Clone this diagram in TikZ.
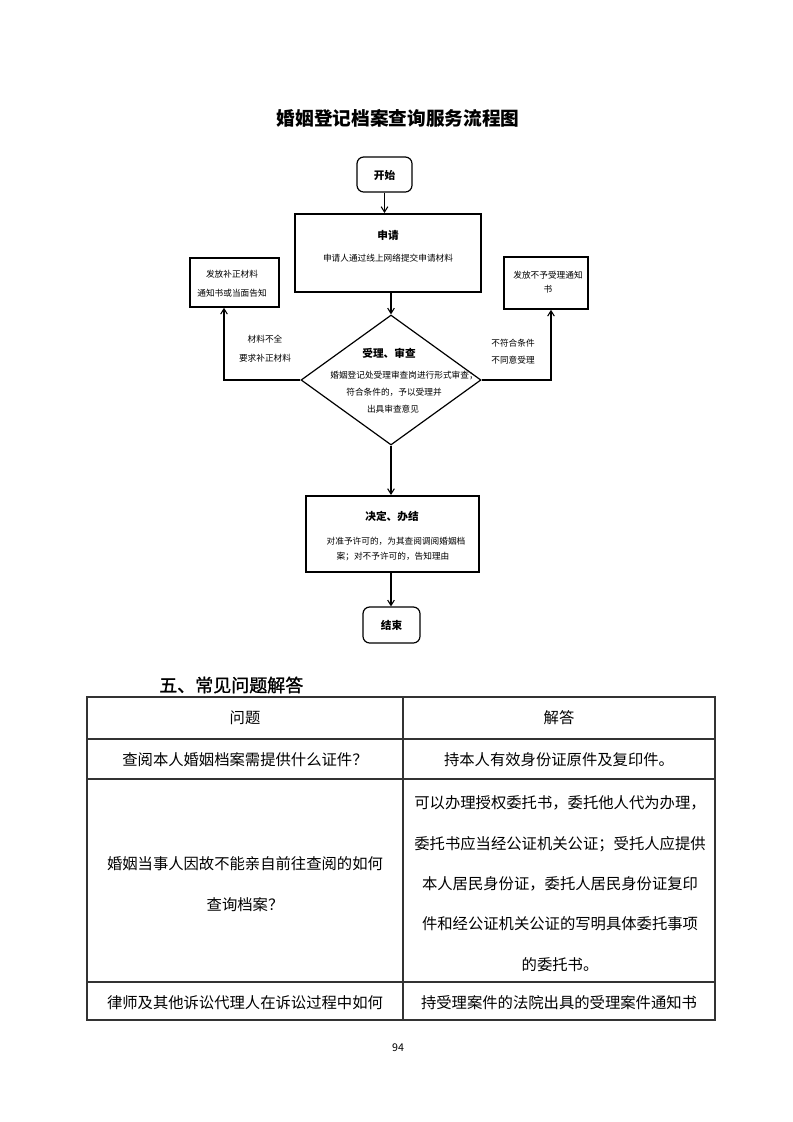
\documentclass[tikz,border=0pt]{standalone}
\usepackage{fontspec}
\setmainfont{Noto Sans CJK SC}
\newfontfamily\secfont[FakeBold=1.2]{Noto Sans CJK SC}
\usetikzlibrary{arrows.meta,shapes.geometric}
\tikzset{
  arr/.style={draw, line width=0.8pt, -{Straight Barb[length=4pt,width=5pt]}},
  thickbox/.style={draw, line width=1.5pt, inner sep=0pt},
  sidebox/.style={draw, line width=1.2pt, inner sep=0pt},
  rbox/.style={draw, line width=0.9pt, rounded corners=5pt, inner sep=0pt},
  dia/.style={draw, diamond, line width=0.9pt, inner sep=0pt},
  small/.style={font=\fontsize{6.5pt}{7pt}\selectfont, inner sep=0pt},
  head/.style={font=\fontsize{8pt}{9pt}\selectfont\bfseries, inner sep=0pt},
  cell/.style={font=\fontsize{11.5pt}{12pt}\selectfont, inner sep=0pt},
  tline/.style={line width=0.8pt, draw=black!80}
}
\begin{document}
\begin{tikzpicture}[x=0.75pt,y=-0.75pt]
\useasboundingbox[fill=white] (0,0) rectangle (793,1122);

% title
\node[font=\fontsize{14pt}{16pt}\selectfont\bfseries, inner sep=0pt] (title) at (398,118) {婚姻登记档案查询服务流程图};

% flowchart nodes
\node[rbox, minimum width=41.25pt, minimum height=26.25pt] (start) at (384.5,174.5) {};
\node[head] (starttxt) at (384.5,175) {开始};

\node[thickbox, minimum width=139.5pt, minimum height=58.5pt] (app) at (388,253) {};
\node[head] (apptitle) at (388,235) {申请};
\node[small] (apptxt) at (388,258) {申请人通过线上网络提交申请材料};

\node[sidebox, minimum width=66.75pt, minimum height=36.75pt] (lb) at (234.5,282.5) {};
\node[small] (lb1) at (232,274) {发放补正材料};
\node[small] (lb2) at (232,293) {通知书或当面告知};

\node[sidebox, minimum width=63pt, minimum height=39pt] (rb) at (546,283) {};
\node[small] (rb1) at (548,275) {发放不予受理通知};
\node[small] (rb2) at (548,289) {书};

\node[dia, minimum width=135pt, minimum height=97.5pt] (d) at (391,380) {};
\node[head] (dtitle) at (389,353) {受理、审查};
\node[small] (d1) at (404,376) {婚姻登记处受理审查岗进行形式审查；};
\node[small] (d2) at (394,392) {符合条件的，予以受理并};
\node[small] (d3) at (393,409) {出具审查意见};

\node[small] (ll1) at (265,339) {材料不全};
\node[small] (ll2) at (265,358) {要求补正材料};
\node[small] (rl1) at (513,343) {不符合条件};
\node[small] (rl2) at (513,360) {不同意受理};

\node[thickbox, minimum width=129.75pt, minimum height=57pt] (dec) at (392.5,534) {};
\node[head] (dectitle) at (392,516) {决定、办结};
\node[small] (dec1) at (396,541) {对准予许可的，为其查阅调阅婚姻档};
\node[small] (dec2) at (393,557) {案；对不予许可的，告知理由};

\node[rbox, minimum width=42.75pt, minimum height=27pt] (end) at (391.5,625) {};
\node[head] (endtxt) at (391.5,625) {结束};

% connectors
\coordinate (lbin) at (224,301);
\coordinate (rbin) at (551,309);
\draw[arr] (start.south) -- (start.south |- app.north);
\draw[arr] (d.north |- app.south) -- (d.north);
\draw[arr] (d.west) -| (lbin |- lb.south);
\draw[arr] (d.east) -| (rbin |- rb.south);
\draw[arr] (d.south) -- (d.south |- dec.north);
\draw[arr] (d.south |- dec.south) -- (d.south |- end.north);

% section heading
\node[font=\fontsize{13.5pt}{15pt}\secfont, anchor=west, inner sep=0pt] (sec) at (159,685) {五、常见问题解答};

% table
\coordinate (tl) at (87,697);
\coordinate (br) at (715,1020);
\draw[tline] (tl) rectangle (br);
\draw[tline] (403,697) -- (403,1020);
\draw[tline] (87,739) -- (715,739);
\draw[tline] (87,779) -- (715,779);
\draw[tline] (87,982) -- (715,982);

\node[cell] (h1) at (245,718) {问题};
\node[cell] (h2) at (559,718) {解答};
\node[cell] (q1) at (245,760) {查阅本人婚姻档案需提供什么证件？};
\node[cell] (a1) at (559,760) {持本人有效身份证原件及复印件。};
\node[cell] (q2a) at (245,864) {婚姻当事人因故不能亲自前往查阅的如何};
\node[cell] (q2b) at (245,905) {查询档案？};
\node[cell] (a2a) at (560,803) {可以办理授权委托书，委托他人代为办理，};
\node[cell] (a2b) at (560,844) {委托书应当经公证机关公证；受托人应提供};
\node[cell] (a2c) at (560,884) {本人居民身份证，委托人居民身份证复印};
\node[cell] (a2d) at (560,924) {件和经公证机关公证的写明具体委托事项};
\node[cell] (a2e) at (560,965) {的委托书。};
\node[cell] (q3) at (245,1003) {律师及其他诉讼代理人在诉讼过程中如何};
\node[cell] (a3) at (559,1003) {持受理案件的法院出具的受理案件通知书};

\node[font=\fontsize{8pt}{9pt}\selectfont, inner sep=0pt] (pg) at (398,1048) {94};
\end{tikzpicture}
\end{document}
